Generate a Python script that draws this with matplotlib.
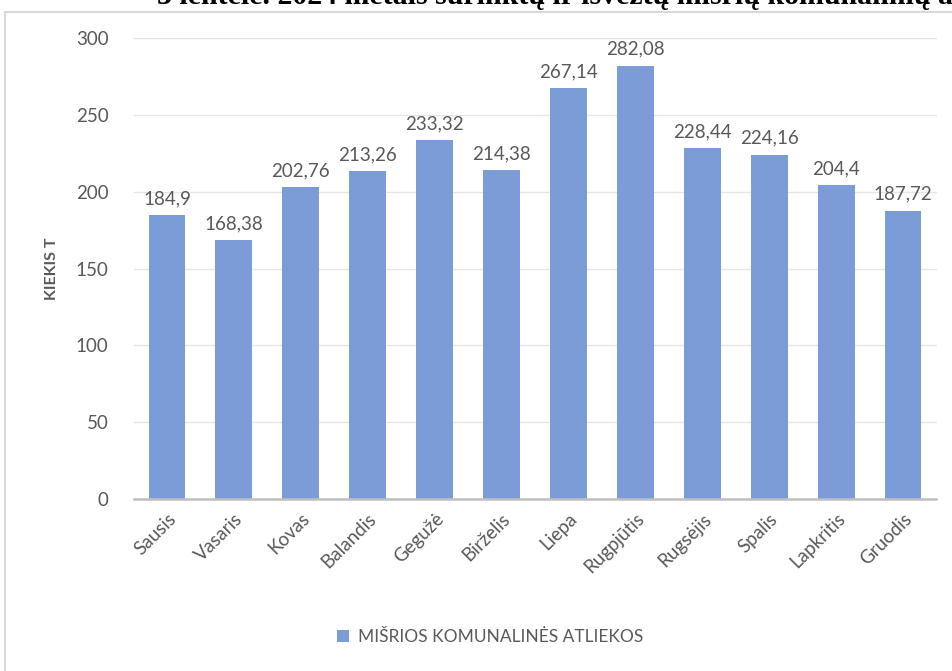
import matplotlib
matplotlib.use("Agg")
import matplotlib.pyplot as plt
from matplotlib.patches import Rectangle

# === Data ===
months = ["Sausis", "Vasaris", "Kovas", "Balandis", "Gegužė", "Birželis",
          "Liepa", "Rugpjūtis", "Rugsėjis", "Spalis", "Lapkritis", "Gruodis"]
amounts = [184.9, 168.38, 202.76, 213.26, 233.32, 214.38,
           267.14, 282.08, 228.44, 224.16, 204.4, 187.72]
series_name = "MIŠRIOS KOMUNALINĖS ATLIEKOS"
caption = "3 lentelė. 2024 metais surinktų ir išvežtų mišrių komunalinių atliekų kiekis"

txt = "#595959"
plt.rcParams['font.family'] = ['Lato', 'DejaVu Sans']

fig = plt.figure(figsize=(9.53, 6.71), dpi=100)

# chart frame
fig.patches.append(Rectangle((5 / 953, -0.1), 1.2, 1 - 12 / 671 + 0.1,
                             transform=fig.transFigure, fill=False,
                             edgecolor="#d9d9d9", linewidth=1.5))
# caption above the chart, cut by the top edge like in the source
fig.text(157 / 953, 1 - 3.5 / 671, caption, family="Liberation Serif",
         fontsize=21.5, fontweight="bold", color="black", va="baseline", ha="left")

ax = fig.add_axes([133.5 / 953, 172 / 671, 803 / 953, 461 / 671])
x = range(len(months))
bars = ax.bar(x, amounts, width=0.55, color="#7b9cd6", label=series_name, zorder=2)

for xi, v in zip(x, amounts):
    ax.text(xi, v + 5, f"{v:g}".replace(".", ","), ha="center", va="bottom",
            fontsize=13.5, color=txt)

ax.set_xlim(-0.5, len(months) - 0.5)
ax.set_ylim(0, 300)
ax.set_yticks(range(0, 301, 50))
ax.set_xticks(list(x))
ax.set_xticklabels(months, rotation=45, ha="right", rotation_mode="anchor")
ax.tick_params(axis="both", length=0, labelsize=13.5, colors=txt)
ax.tick_params(axis="y", pad=18)
ax.tick_params(axis="x", pad=8)
ax.grid(axis="y", color="#e6e6e6", linewidth=1, zorder=0)
for s in ["top", "right", "left"]:
    ax.spines[s].set_visible(False)
ax.spines["bottom"].set_color("#bfbfbf")
ax.spines["bottom"].set_linewidth(1.8)

ax.set_ylabel("KIEKIS T", fontsize=11.5, color=txt, fontweight="bold", labelpad=12)

fig.legend(handles=[bars], labels=[series_name], loc="center",
           bbox_to_anchor=(490 / 953, 1 - 637 / 671), frameon=False,
           fontsize=12.5, labelcolor=txt, handlelength=0.7, handleheight=0.7,
           handletextpad=0.5)

fig.savefig("out.png", dpi=100)
